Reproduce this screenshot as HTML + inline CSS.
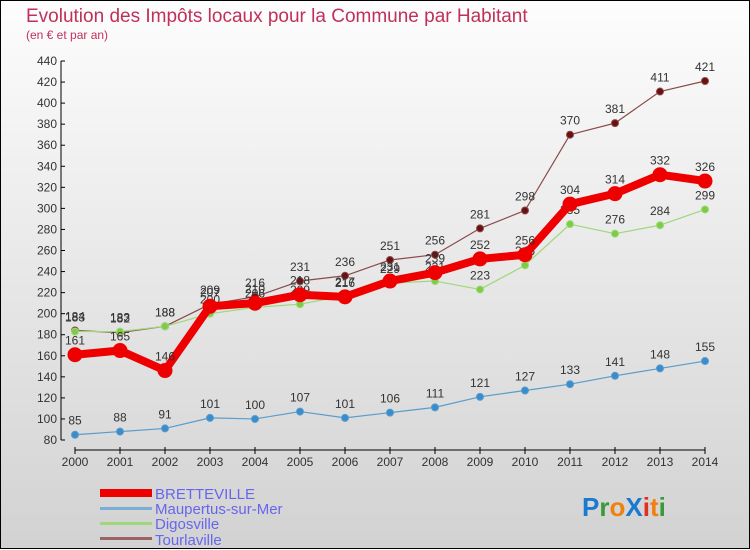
<!DOCTYPE html>
<html><head><meta charset="utf-8"><style>
body{margin:0;}
#wrap{width:750px;height:550px;position:relative;overflow:hidden;font-family:"Liberation Sans",sans-serif;}
</style></head><body>
<div id="wrap">
<svg id="svg" width="750" height="550" xmlns="http://www.w3.org/2000/svg">
<defs><linearGradient id="bg" x1="0" y1="0" x2="0" y2="1"><stop offset="0" stop-color="#fdfdfd"/><stop offset="1" stop-color="#d2d2d2"/></linearGradient></defs>
<rect x="0.5" y="0.5" width="749" height="548" fill="url(#bg)" stroke="#000"/>
<text x="26" y="22" font-size="19" fill="#c0305a">Evolution des Impôts locaux pour la Commune par Habitant</text>
<text x="26" y="39" font-size="12" fill="#c0305a">(en € et par an)</text>
<g id="axes"></g><g id="series"></g>
<g>
<rect x="100" y="489" width="52" height="8" fill="#e00"/>
<text x="155" y="499" font-size="15" fill="#6666ee">BRETTEVILLE</text>
<rect x="100" y="507" width="52" height="3" fill="#7aaed6"/>
<text x="155" y="514" font-size="15" fill="#6666ee">Maupertus-sur-Mer</text>
<rect x="100" y="522" width="52" height="3" fill="#9ed878"/>
<text x="155" y="529" font-size="15" fill="#6666ee">Digosville</text>
<rect x="100" y="537" width="52" height="3" fill="#9a6464"/>
<text x="155" y="545" font-size="15" fill="#6666ee">Tourlaville</text>
</g>
<text x="582" y="516" font-size="26" font-weight="bold"><tspan fill="#1a7ad0">P</tspan><tspan fill="#3a9a3a">r</tspan><tspan fill="#f08010">o</tspan><tspan fill="#1a7ad0">X</tspan><tspan fill="#e03020">i</tspan><tspan fill="#f08010">t</tspan><tspan fill="#3a9a3a">i</tspan></text>
</svg></div>
<script>
const years=[2000,2001,2002,2003,2004,2005,2006,2007,2008,2009,2010,2011,2012,2013,2014];
const bretteville=[161,165,146,207,210,218,216,231,239,252,256,304,314,332,326];
const maupertus=[85,88,91,101,100,107,101,106,111,121,127,133,141,148,155];
const digosville=[183,183,188,200,206,209,217,229,231,223,246,285,276,284,299];
const tourlaville=[184,182,188,209,216,231,236,251,256,281,298,370,381,411,421];
const yTicks=[80,100,120,140,160,180,200,220,240,260,280,300,320,340,360,380,400,420,440];
const NS="http://www.w3.org/2000/svg";
function xS(i){return 75+i*45;}
function yS(v){return 440-(v-80)*(379/360);}
function mk(t,a,p){const e=document.createElementNS(NS,t);for(const k in a)e.setAttribute(k,a[k]);p.appendChild(e);return e;}
const ax=document.getElementById('axes');
const yl=mk('line',{x1:61,y1:yS(440),x2:61,y2:yS(80),stroke:'#000'},ax);


yTicks.forEach(v=>{
 const t=mk('line',{x1:61,y1:yS(v),x2:65,y2:yS(v),stroke:'#000'},ax);
 
 
 const l=mk('text',{x:57,y:yS(v)+4,'font-size':12,fill:'#333','text-anchor':'end'},ax);l.textContent=v;
 
 
});
const xl=mk('line',{x1:75,y1:450,x2:705,y2:450,stroke:'#000'},ax);


years.forEach((y,i)=>{
 const t=mk('line',{x1:xS(i),y1:447,x2:xS(i),y2:454,stroke:'#000'},ax);
 
 
 const l=mk('text',{x:xS(i),y:466,'font-size':12,fill:'#333','text-anchor':'middle'},ax);l.textContent=y;
 
 
});
const sg=document.getElementById('series');
function draw(name,vals,color,w,r,dot){
 const g=mk('g',{},sg);
 
 
 const pl=mk('polyline',{points:vals.map((v,i)=>xS(i)+','+yS(v)).join(' '),fill:'none',stroke:color,'stroke-width':w,'stroke-linejoin':'round'},g);
 
 
 vals.forEach((v,i)=>{
  const c=mk('circle',{cx:xS(i),cy:yS(v),r:r,fill:dot,stroke:color,'stroke-width':1},g);
  
  
  const l=mk('text',{x:xS(i),y:yS(v)-10,'font-size':12,fill:'#333','text-anchor':'middle'},g);l.textContent=v;
  
  
 });
}
draw('tourlaville',tourlaville,'#8a4a4a',1.2,3.5,'#6a1010');
draw('digosville',digosville,'#9ed878',1.2,3.5,'#7ccc44');
draw('bretteville',bretteville,'#ee0000',8,7,'#ee0000');
draw('maupertus',maupertus,'#5a9ccc',1.2,3.5,'#3a8ccc');
</script>
</body></html>
